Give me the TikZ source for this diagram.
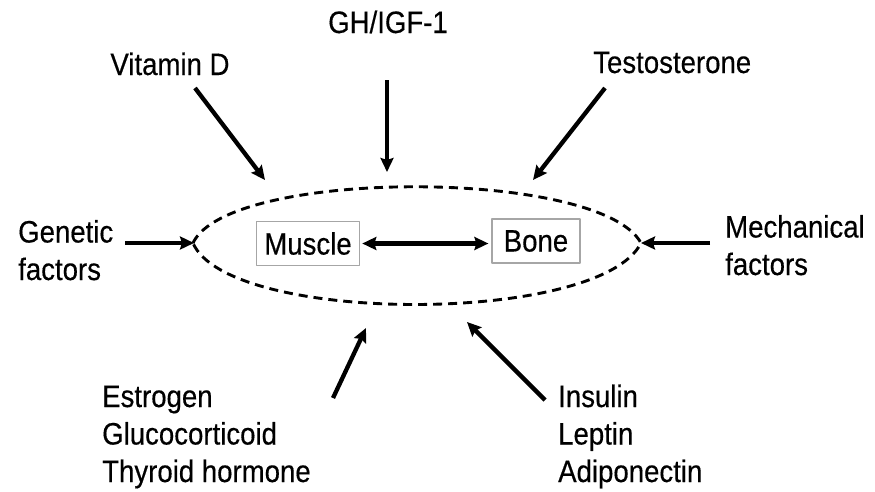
\documentclass[tikz,border=0pt]{standalone}
\usepackage{fontspec}
\setmainfont[FakeStretch=0.89, FakeBold=0.4]{Liberation Sans}
\usetikzlibrary{arrows.meta}

\begin{document}
\begin{tikzpicture}[x=1pt, y=-1pt, line join=round,
    >={Stealth[length=14pt, width=13pt, inset=2pt]},
    lbl/.style={font=\fontsize{31}{37.5}\selectfont, inner sep=0pt, align=left},
    organ/.style={draw=gray!70, line width=1.2pt, font=\fontsize{31}{35}\selectfont,
        minimum height=44pt, inner xsep=8pt, inner ysep=0pt},
    push/.style={->, line width=4.3pt}]
    \useasboundingbox (0,0) rectangle (875,491);

    \coordinate (L) at (193,243);
    \coordinate (R) at (641,243);

    % dashed outline
    \draw[dash pattern=on 9pt off 6pt, line width=2.9pt]
        (L) .. controls (228,168) and (600,168) .. (R)
            .. controls (600,325) and (228,325) .. (L);

    \node[organ] (muscle) at (308,243.5) {Muscle};
    \node[organ, minimum width=88pt] (bone) at (536,241) {Bone};
    \draw[<->, line width=4.5pt, shorten <=2pt, shorten >=3pt]
        (muscle.east) -- (muscle.east -| bone.west);

    \node[lbl, anchor=base] (gh) at (388,33) {GH/IGF-1};
    \node[lbl, anchor=base] (vitd) at (170,75) {Vitamin D};
    \node[lbl, anchor=base west] (testo) at (593,73) {Testosterone};
    \node[lbl, anchor=base west] (genetic) at (18,280) {Genetic\\factors};
    \node[lbl, anchor=base west] (mech) at (725,275) {Mechanical\\factors};
    \node[lbl, anchor=base west] (estro) at (102,482) {Estrogen\\Glucocorticoid\\Thyroid hormone};
    \node[lbl, anchor=base west] (insulin) at (558,482) {Insulin\\Leptin\\Adiponectin};

    \coordinate (vitdS) at (195,88);   \coordinate (vitdE) at (265,180);
    \coordinate (ghS) at (387,80);     \coordinate (ghE) at (387,172);
    \coordinate (testoS) at (605,88);  \coordinate (testoE) at (533,180);
    \coordinate (genS) at (125,243);   \coordinate (genE) at (194,243);
    \coordinate (mechS) at (710,243);  \coordinate (mechE) at (641,243);
    \coordinate (estroS) at (333,398); \coordinate (estroE) at (366,328);
    \coordinate (insS) at (545,400);   \coordinate (insE) at (467,322);

    \draw[push] (vitdS) -- (vitdE);
    \draw[push] (ghS) -- (ghE);
    \draw[push] (testoS) -- (testoE);
    \draw[push] (genS) -- (genE);
    \draw[push] (mechS) -- (mechE);
    \draw[push] (estroS) -- (estroE);
    \draw[push] (insS) -- (insE);
\end{tikzpicture}
\end{document}
